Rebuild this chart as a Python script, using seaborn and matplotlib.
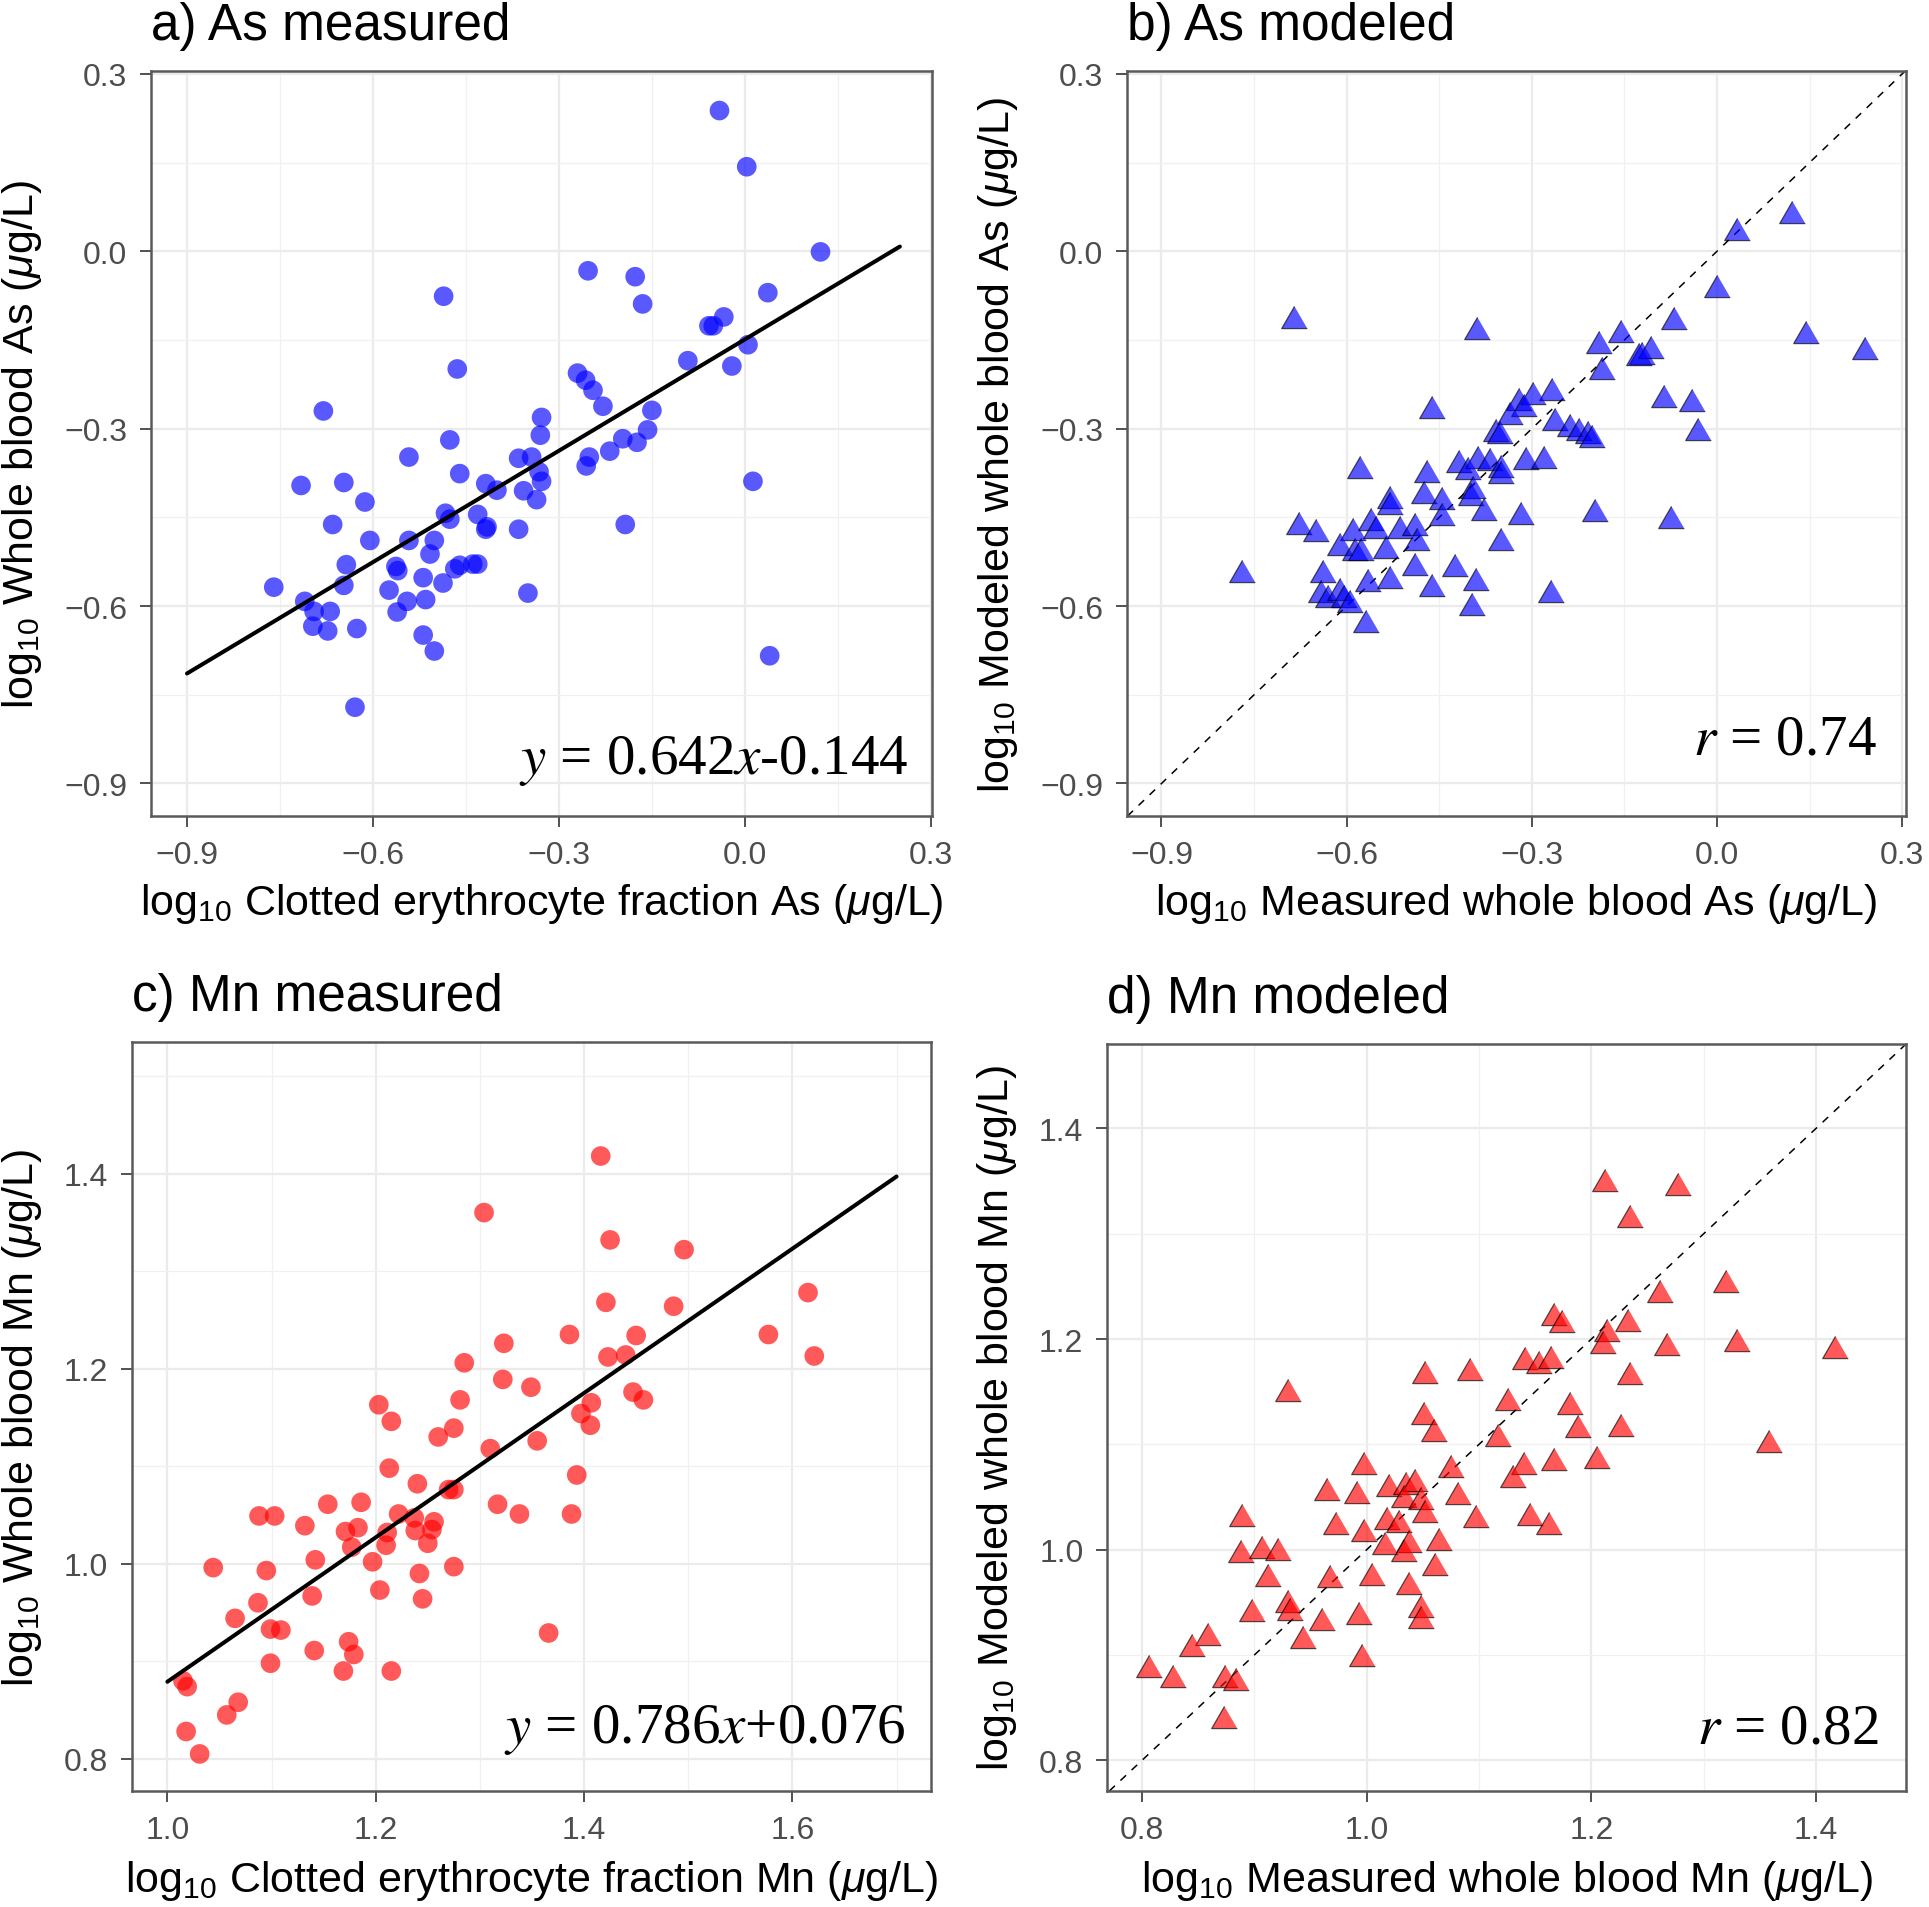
import matplotlib
matplotlib.use("Agg")
import matplotlib.pyplot as plt
from matplotlib.ticker import FixedLocator, FuncFormatter
import seaborn as sns

# ---------------- data ----------------
# a) As measured: clotted erythrocyte fraction (x) vs whole blood (y)
as_meas_x = [-0.041, 0.003, 0.122, -0.253, -0.177, -0.165, 0.037, -0.486, -0.058, -0.051,
             -0.034, 0.005, -0.092, -0.021, -0.464, -0.270, -0.257, -0.245, -0.229, -0.150,
             -0.680, -0.328, -0.330, -0.157, -0.197, -0.174, -0.476, -0.218, -0.542, -0.365,
             -0.344, -0.251, -0.256, -0.332, -0.328, -0.460, 0.013, -0.716, -0.647, -0.418,
             -0.400, -0.357, -0.336, -0.613, -0.483, -0.476, -0.431, -0.418, -0.416, -0.365,
             -0.193, -0.665, -0.605, -0.542, -0.501, -0.508, -0.643, -0.563, -0.560, -0.460,
             -0.468, -0.439, -0.431, -0.519, -0.487, -0.647, -0.760, -0.574, -0.350, -0.710,
             -0.545, -0.515, -0.695, -0.669, -0.561, -0.697, -0.673, -0.626, -0.519, -0.501,
             0.040, -0.629]
as_meas_y = [0.238, 0.143, -0.001, -0.033, -0.043, -0.089, -0.070, -0.076, -0.126, -0.126,
             -0.111, -0.158, -0.185, -0.194, -0.199, -0.206, -0.218, -0.235, -0.262, -0.269,
             -0.270, -0.281, -0.311, -0.302, -0.317, -0.323, -0.319, -0.338, -0.348, -0.350,
             -0.348, -0.348, -0.363, -0.373, -0.389, -0.376, -0.389, -0.396, -0.391, -0.393,
             -0.404, -0.405, -0.420, -0.424, -0.443, -0.453, -0.445, -0.470, -0.466, -0.470,
             -0.462, -0.462, -0.489, -0.489, -0.489, -0.512, -0.530, -0.533, -0.540, -0.531,
             -0.537, -0.529, -0.529, -0.552, -0.561, -0.565, -0.568, -0.573, -0.578, -0.592,
             -0.592, -0.589, -0.609, -0.609, -0.610, -0.634, -0.642, -0.638, -0.649, -0.676,
             -0.684, -0.771]
as_fit_x = [-0.9, 0.25]
as_fit_y = [-0.714, 0.008]
as_eq = r"$y$ = 0.642$x$-0.144"

# b) As modeled: measured whole blood (x) vs modeled whole blood (y)
as_mod_x = [0.122, 0.033, 0.000, -0.685, -0.389, -0.070, 0.145, 0.240, -0.191, -0.155,
            -0.122, -0.107, -0.126, -0.186, -0.086, -0.041, -0.031, -0.461, -0.267, -0.298,
            -0.321, -0.312, -0.335, -0.263, -0.238, -0.223, -0.209, -0.203, -0.358, -0.352,
            -0.579, -0.470, -0.418, -0.387, -0.368, -0.350, -0.350, -0.310, -0.281, -0.403,
            -0.395, -0.399, -0.377, -0.317, -0.197, -0.074, -0.474, -0.445, -0.445, -0.529,
            -0.529, -0.678, -0.649, -0.590, -0.561, -0.552, -0.513, -0.490, -0.486, -0.610,
            -0.586, -0.577, -0.536, -0.350, -0.490, -0.424, -0.639, -0.565, -0.529, -0.769,
            -0.391, -0.461, -0.269, -0.641, -0.631, -0.610, -0.604, -0.594, -0.397, -0.569]
as_mod_y = [0.067, 0.038, -0.059, -0.111, -0.130, -0.113, -0.137, -0.164, -0.153, -0.134,
            -0.172, -0.162, -0.174, -0.197, -0.245, -0.252, -0.300, -0.263, -0.233, -0.239,
            -0.250, -0.260, -0.274, -0.283, -0.294, -0.300, -0.305, -0.313, -0.302, -0.305,
            -0.365, -0.372, -0.355, -0.348, -0.351, -0.363, -0.373, -0.350, -0.348, -0.367,
            -0.399, -0.411, -0.435, -0.443, -0.437, -0.449, -0.407, -0.418, -0.445, -0.416,
            -0.426, -0.460, -0.472, -0.470, -0.453, -0.466, -0.466, -0.462, -0.487, -0.495,
            -0.504, -0.504, -0.500, -0.487, -0.529, -0.531, -0.541, -0.556, -0.550, -0.541,
            -0.554, -0.565, -0.575, -0.575, -0.583, -0.571, -0.583, -0.592, -0.596, -0.625]
as_r = r"$r$ = 0.74"

# c) Mn measured
mn_meas_x = [1.416, 1.304, 1.425, 1.496, 1.615, 1.421, 1.486, 1.577, 1.386, 1.450,
             1.323, 1.423, 1.440, 1.621, 1.285, 1.322, 1.349, 1.281, 1.407, 1.447,
             1.457, 1.397, 1.406, 1.203, 1.215, 1.275, 1.260, 1.355, 1.310, 1.213,
             1.393, 1.240, 1.270, 1.275, 1.154, 1.186, 1.317, 1.338, 1.388, 1.088,
             1.103, 1.222, 1.237, 1.132, 1.171, 1.183, 1.256, 1.254, 1.238, 1.211,
             1.210, 1.250, 1.177, 1.142, 1.197, 1.044, 1.095, 1.275, 1.242, 1.204,
             1.245, 1.087, 1.139, 1.065, 1.099, 1.109, 1.366, 1.174, 1.179, 1.141,
             1.099, 1.169, 1.215, 1.015, 1.019, 1.068, 1.057, 1.018, 1.031]
mn_meas_y = [1.418, 1.360, 1.332, 1.322, 1.278, 1.268, 1.264, 1.235, 1.235, 1.234,
             1.226, 1.212, 1.214, 1.213, 1.206, 1.189, 1.181, 1.168, 1.165, 1.176,
             1.168, 1.154, 1.142, 1.163, 1.146, 1.139, 1.130, 1.126, 1.118, 1.098,
             1.091, 1.082, 1.076, 1.076, 1.061, 1.063, 1.061, 1.051, 1.051, 1.049,
             1.049, 1.051, 1.047, 1.039, 1.033, 1.037, 1.043, 1.035, 1.034, 1.032,
             1.019, 1.021, 1.017, 1.004, 1.002, 0.996, 0.993, 0.997, 0.990, 0.973,
             0.964, 0.960, 0.967, 0.944, 0.933, 0.932, 0.929, 0.920, 0.907, 0.911,
             0.898, 0.890, 0.890, 0.880, 0.874, 0.858, 0.845, 0.828, 0.805]
mn_fit_x = [1.0, 1.7]
mn_fit_y = [0.879, 1.397]
mn_eq = r"$y$ = 0.786$x$+0.076"

# d) Mn modeled
mn_mod_x = [1.212, 1.277, 1.234, 1.320, 1.261, 1.167, 1.174, 1.233, 1.214, 1.210,
            1.267, 1.330, 1.417, 1.141, 1.153, 1.164, 1.052, 1.092, 1.234, 0.930,
            1.126, 1.181, 1.051, 1.060, 1.117, 1.188, 1.226, 1.358, 1.167, 1.205,
            0.998, 1.075, 1.140, 1.130, 0.965, 0.991, 1.020, 1.035, 1.043, 1.033,
            1.048, 1.081, 1.052, 1.097, 1.145, 1.162, 0.889, 1.018, 1.029, 0.973,
            0.998, 0.888, 0.907, 0.921, 1.016, 1.038, 1.033, 1.064, 1.061, 0.912,
            0.967, 1.005, 1.038, 0.930, 0.932, 0.898, 0.960, 0.993, 1.048, 1.048,
            0.943, 0.859, 0.845, 0.996, 0.806, 0.828, 0.874, 0.884, 0.873]
mn_mod_y = [1.351, 1.347, 1.317, 1.255, 1.246, 1.224, 1.217, 1.218, 1.209, 1.197,
            1.195, 1.199, 1.192, 1.182, 1.178, 1.183, 1.169, 1.172, 1.168, 1.152,
            1.143, 1.139, 1.130, 1.114, 1.109, 1.117, 1.118, 1.103, 1.086, 1.088,
            1.082, 1.079, 1.082, 1.070, 1.058, 1.055, 1.061, 1.063, 1.066, 1.051,
            1.049, 1.054, 1.037, 1.032, 1.034, 1.025, 1.033, 1.030, 1.027, 1.025,
            1.019, 0.999, 1.003, 1.001, 1.006, 1.008, 1.000, 1.010, 0.986, 0.976,
            0.975, 0.977, 0.968, 0.951, 0.944, 0.943, 0.934, 0.940, 0.947, 0.936,
            0.917, 0.920, 0.910, 0.900, 0.890, 0.880, 0.880, 0.877, 0.841]
mn_r = r"$r$ = 0.82"

# tick values
as_major = [-0.9, -0.6, -0.3, 0.0, 0.3]
as_minor = [-0.75, -0.45, -0.15, 0.15]
mnc_x_major = [1.0, 1.2, 1.4, 1.6]
mnc_x_minor = [1.1, 1.3, 1.5, 1.7]
mn_y_major = [0.8, 1.0, 1.2, 1.4]
mn_y_minor = [0.9, 1.1, 1.3, 1.5]
mnd_major = [0.8, 1.0, 1.2, 1.4]
mnd_minor = [0.9, 1.1, 1.3]

titles = ["a) As measured", "b) As modeled", "c) Mn measured", "d) Mn modeled"]
xlabels = [r"log$_{10}$ Clotted erythrocyte fraction As ($\mu$g/L)",
           r"log$_{10}$ Measured whole blood As ($\mu$g/L)",
           r"log$_{10}$ Clotted erythrocyte fraction Mn ($\mu$g/L)",
           r"log$_{10}$ Measured whole blood Mn ($\mu$g/L)"]
ylabels = [r"log$_{10}$ Whole blood As ($\mu$g/L)",
           r"log$_{10}$ Modeled whole blood As ($\mu$g/L)",
           r"log$_{10}$ Whole blood Mn ($\mu$g/L)",
           r"log$_{10}$ Modeled whole blood Mn ($\mu$g/L)"]

# ---------------- style ----------------
sns.set_theme(style="white")
plt.rcParams['font.family'] = ['Liberation Sans', 'DejaVu Sans']
plt.rcParams['mathtext.fontset'] = 'custom'
plt.rcParams['mathtext.rm'] = 'Liberation Sans'
plt.rcParams['mathtext.it'] = 'Liberation Sans:italic'
plt.rcParams['mathtext.bf'] = 'Liberation Sans:bold'
plt.rcParams['axes.unicode_minus'] = True

fig = plt.figure(figsize=(19.29, 19.08), dpi=100)
fig.patch.set_facecolor('white')
ax_a = fig.add_axes([0.0783, 0.5718, 0.4049, 0.3905])
ax_b = fig.add_axes([0.5842, 0.5718, 0.4038, 0.3905])
ax_c = fig.add_axes([0.0684, 0.0608, 0.4142, 0.3926])
ax_d = fig.add_axes([0.5739, 0.0608, 0.4142, 0.3915])


def fmt(v, pos):
    if abs(v) < 1e-9:
        v = 0.0
    return f"{v:.1f}".replace('-', '\u2212')


def style(ax, xlim, ylim, xmaj, xmin, ymaj, ymin):
    ax.set_xlim(xlim)
    ax.set_ylim(ylim)
    ax.xaxis.set_major_locator(FixedLocator(xmaj))
    ax.xaxis.set_minor_locator(FixedLocator(xmin))
    ax.yaxis.set_major_locator(FixedLocator(ymaj))
    ax.yaxis.set_minor_locator(FixedLocator(ymin))
    ax.xaxis.set_major_formatter(FuncFormatter(fmt))
    ax.yaxis.set_major_formatter(FuncFormatter(fmt))
    ax.set_facecolor('white')
    ax.grid(which='major', color='#ebebeb', lw=1.6)
    ax.grid(which='minor', color='#f0f0f0', lw=0.9)
    ax.set_axisbelow(True)
    ax.tick_params(which='major', direction='out', length=8, width=1.2,
                   color='#333333', labelsize=23, labelcolor='#4d4d4d', pad=9,
                   bottom=True, left=True, top=False, right=False)
    ax.tick_params(which='minor', length=0)
    for sp in ax.spines.values():
        sp.set_visible(True)
        sp.set_color('#5a5a5a')
        sp.set_linewidth(1.8)


def labels(ax, title, xl, yl, xlab_y, ylab_x):
    ax.annotate(title, xy=(0, 1), xycoords='axes fraction', xytext=(0, 23),
                textcoords='offset points', ha='left', va='baseline',
                fontsize=37, color='black')
    ax.set_xlabel(xl, fontsize=31, color='black')
    ax.set_ylabel(yl, fontsize=31, color='black')
    ax.xaxis.set_label_coords(0.5, xlab_y)
    ax.yaxis.set_label_coords(ylab_x, 0.5)
    ax.xaxis.label.set_va('baseline')
    ax.yaxis.label.set_va('baseline')


def note(ax, x, y, s):
    ax.text(x, y, s, ha='right', va='baseline', fontsize=41,
            family='Liberation Serif', math_fontfamily='stix', color='black')


tri = [(0.0, 0.433), (-0.5, -0.433), (0.5, -0.433)]

# a)
style(ax_a, (-0.958, 0.302), (-0.955, 0.305), as_major, as_minor, as_major, as_minor)
sns.scatterplot(x=as_meas_x, y=as_meas_y, ax=ax_a, color='blue', alpha=0.65,
                s=200, linewidth=0, edgecolor='none', zorder=3)
sns.lineplot(x=as_fit_x, y=as_fit_y, ax=ax_a, color='black', lw=2.9, zorder=4)
note(ax_a, 0.263, -0.882, as_eq)
labels(ax_a, titles[0], xlabels[0], ylabels[0], -0.1315, -0.151)

# b)
style(ax_b, (-0.956, 0.306), (-0.955, 0.305), as_major, as_minor, as_major, as_minor)
ax_b.axline((0, 0), slope=1, color='black', lw=1.1, ls=(0, (5, 5)), zorder=2)
sns.scatterplot(x=as_mod_x, y=as_mod_y, ax=ax_b, color='blue', alpha=0.65,
                marker=tri, s=340, linewidth=0.9, edgecolor='black', zorder=3)
note(ax_b, 0.259, -0.850, as_r)
labels(ax_b, titles[1], xlabels[1], ylabels[1], -0.1315, -0.151)

# c)
style(ax_c, (0.966, 1.733), (0.767, 1.535), mnc_x_major, mnc_x_minor, mn_y_major, mn_y_minor)
sns.scatterplot(x=mn_meas_x, y=mn_meas_y, ax=ax_c, color='red', alpha=0.65,
                s=200, linewidth=0, edgecolor='none', zorder=3)
sns.lineplot(x=mn_fit_x, y=mn_fit_y, ax=ax_c, color='black', lw=2.9, zorder=4)
note(ax_c, 1.709, 0.817, mn_eq)
labels(ax_c, titles[2], xlabels[2], ylabels[2], -0.1335, -0.124)

# d)
style(ax_d, (0.769, 1.48), (0.771, 1.48), mnd_major, mnd_minor, mnd_major, mnd_minor)
ax_d.axline((1, 1), slope=1, color='black', lw=1.1, ls=(0, (5, 5)), zorder=2)
sns.scatterplot(x=mn_mod_x, y=mn_mod_y, ax=ax_d, color='red', alpha=0.65,
                marker=tri, s=340, linewidth=0.9, edgecolor='black', zorder=3)
note(ax_d, 1.455, 0.817, mn_r)
labels(ax_d, titles[3], xlabels[3], ylabels[3], -0.1335, -0.124)

fig.savefig("out.png", dpi=100, facecolor='white')
